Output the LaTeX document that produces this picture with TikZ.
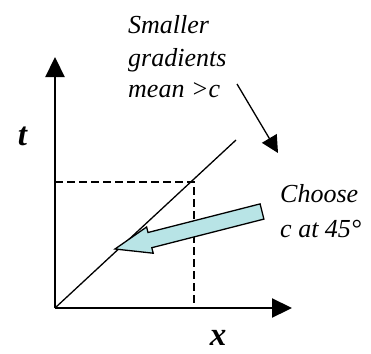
\documentclass[tikz,border=0pt]{standalone}
\usepackage{fontspec}
\setmainfont{Liberation Serif}
\usetikzlibrary{arrows.meta}
\definecolor{arrowfill}{RGB}{184,228,230}
\tikzset{
  axis/.style={line width=2.2pt, -{Triangle[length=20pt,width=19pt]}},
  thinline/.style={line width=1.3pt},
  guide/.style={line width=1.3pt, dash pattern=on 8pt off 4pt},
  pointer/.style={line width=1.3pt, -{Triangle[length=17pt,width=17pt]}},
  label/.style={inner sep=0pt, anchor=base west, font=\fontsize{26}{30}\selectfont\itshape},
  axlabel/.style={inner sep=0pt, anchor=base, font=\fontsize{33}{37}\selectfont\bfseries\itshape},
  blockarrow/.style={draw=black, line width=1.3pt, fill=arrowfill, line join=miter}
}
\begin{document}
\begin{tikzpicture}[x=1pt,y=-1pt]
\useasboundingbox (0,0) rectangle (371,353);
% key points
\coordinate (O) at (55,308);
\coordinate (Yend) at (55,57);
\coordinate (Xend) at (292,308);
\coordinate (D) at (236,140);
\coordinate (H) at (55,182);
\coordinate (C) at (194,182);
\coordinate (V) at (194,308);
\coordinate (Ps) at (237,84);
\coordinate (Pe) at (278,153);
% diagonal and guides
\draw[thinline] (O) -- (D);
\draw[guide] (H) -- (C) -- (V);
% axes
\draw[axis] (O) -- (Yend);
\draw[axis] (O) -- (Xend);
% block arrow
\draw[blockarrow] (260.1,203.9) -- (148.0,232.5) -- (146.6,227.0) -- (115,249)
  -- (153.2,253.2) -- (151.8,247.7) -- (263.9,219.1) -- cycle;
% pointer arrow
\draw[pointer] (Ps) -- (Pe);
% labels
\node[axlabel] (tl) at (22.5,145) {t};
\node[axlabel] (xl) at (218,345) {x};
\node[label] (s1) at (128,34) {Smaller};
\node[label] (s2) at (128,66) {gradients};
\node[label] (s3) at (128,97) {mean >c};
\node[label] (c1) at (280,202) {Choose};
\node[label] (c2) at (280,237) {c at 45°};
\end{tikzpicture}
\end{document}
